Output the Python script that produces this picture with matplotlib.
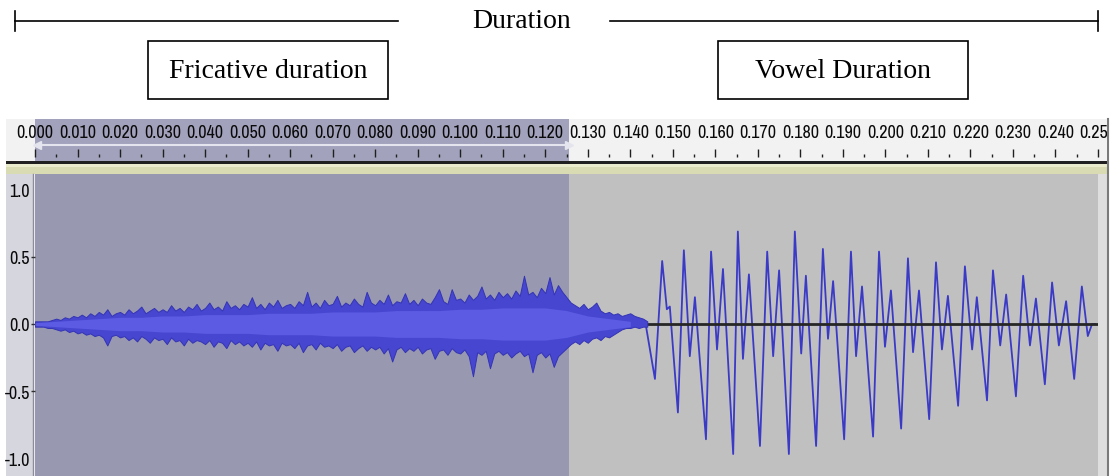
import matplotlib.pyplot as plt
import numpy as np
from matplotlib import font_manager
from matplotlib.font_manager import FontProperties

# fricative noise envelope, one value per ms (0-144 ms)
noise_ms = np.arange(0, 145)
noise_upper = [
    0.02, 0.02, 0.02, 0.02, 0.03, 0.04, 0.03, 0.05, 0.04, 0.06,
    0.05, 0.07, 0.05, 0.08, 0.06, 0.09, 0.07, 0.11, 0.06, 0.08,
    0.09, 0.07, 0.11, 0.08, 0.10, 0.13, 0.08, 0.10, 0.12, 0.09,
    0.11, 0.09, 0.14, 0.10, 0.12, 0.09, 0.13, 0.11, 0.15, 0.10,
    0.12, 0.16, 0.11, 0.13, 0.10, 0.17, 0.12, 0.14, 0.11, 0.15,
    0.13, 0.20, 0.12, 0.15, 0.11, 0.16, 0.13, 0.18, 0.12, 0.14,
    0.15, 0.12, 0.17, 0.14, 0.24, 0.13, 0.16, 0.12, 0.18, 0.14,
    0.15, 0.21, 0.13, 0.16, 0.14, 0.19, 0.15, 0.13, 0.24, 0.16,
    0.14, 0.18, 0.15, 0.22, 0.14, 0.17, 0.16, 0.23, 0.15, 0.18,
    0.14, 0.19, 0.16, 0.15, 0.20, 0.26, 0.17, 0.15, 0.26, 0.18,
    0.19, 0.16, 0.22, 0.18, 0.21, 0.28, 0.19, 0.22, 0.18, 0.24,
    0.20, 0.23, 0.19, 0.25, 0.21, 0.36, 0.22, 0.24, 0.20, 0.27,
    0.23, 0.35, 0.22, 0.29, 0.24, 0.20, 0.16, 0.14, 0.12, 0.15,
    0.11, 0.13, 0.16, 0.10, 0.08, 0.09, 0.07, 0.08, 0.06, 0.07,
    0.08, 0.06, 0.05, 0.04, 0.02,
]
noise_lower = [
    -0.02, -0.02, -0.02, -0.03, -0.03, -0.04, -0.05, -0.04, -0.06, -0.05,
    -0.07, -0.06, -0.08, -0.07, -0.09, -0.08, -0.10, -0.16, -0.09, -0.08,
    -0.10, -0.09, -0.12, -0.10, -0.13, -0.09, -0.11, -0.14, -0.10, -0.12,
    -0.11, -0.15, -0.10, -0.13, -0.12, -0.16, -0.11, -0.14, -0.12, -0.13,
    -0.15, -0.12, -0.17, -0.13, -0.14, -0.18, -0.12, -0.15, -0.13, -0.16,
    -0.14, -0.17, -0.13, -0.19, -0.14, -0.16, -0.15, -0.20, -0.14, -0.16,
    -0.15, -0.18, -0.14, -0.21, -0.16, -0.15, -0.19, -0.14, -0.17, -0.16,
    -0.18, -0.15, -0.20, -0.17, -0.16, -0.21, -0.18, -0.16, -0.20, -0.17,
    -0.19, -0.17, -0.22, -0.18, -0.28, -0.19, -0.17, -0.21, -0.18, -0.20,
    -0.17, -0.22, -0.19, -0.18, -0.26, -0.20, -0.19, -0.23, -0.18, -0.21,
    -0.22, -0.19, -0.24, -0.39, -0.21, -0.23, -0.20, -0.33, -0.22, -0.20,
    -0.23, -0.21, -0.25, -0.22, -0.20, -0.24, -0.22, -0.36, -0.23, -0.21,
    -0.25, -0.22, -0.32, -0.24, -0.21, -0.18, -0.15, -0.13, -0.15, -0.12,
    -0.14, -0.11, -0.10, -0.12, -0.09, -0.10, -0.08, -0.06, -0.04, -0.03,
    -0.03, -0.02, -0.03, -0.02, -0.02,
]

# lighter rms band inside the noise, every 5 ms
rms_ms = np.arange(0, 145, 5)
rms_level = [
    0.01, 0.02, 0.03, 0.04, 0.05, 0.05, 0.06, 0.06, 0.07, 0.07,
    0.07, 0.08, 0.08, 0.08, 0.09, 0.09, 0.09, 0.10, 0.10, 0.10,
    0.11, 0.11, 0.12, 0.12, 0.12, 0.10, 0.06, 0.04, 0.02,
]

# vowel: turning points of each glottal cycle (ms, amplitude)
vowel_ms = [
    143.5, 145.8, 147.5, 148.6, 149.3, 151.2, 152.6, 154.0, 155.2, 157.8,
    159.0, 160.4, 161.8, 164.2, 165.3, 166.5, 167.9, 170.5, 172.2, 173.6,
    175.0, 177.3, 178.7, 180.2, 181.3, 183.7, 185.3, 186.5, 187.7, 190.3,
    191.9, 193.1, 194.5, 197.1, 198.5, 199.9, 201.3, 203.7, 205.3, 206.5,
    207.9, 210.3, 211.9, 213.3, 214.7, 217.1, 218.7, 220.4, 221.5, 223.9,
    225.3, 227.0, 228.4, 230.7, 232.4, 234.0, 235.4, 237.5, 239.2, 240.8,
    242.5, 244.4, 246.2, 247.6, 248.6, 249.3,
]
vowel_amp = [
    0.02, -0.41, 0.47, 0.11, 0.13, -0.66, 0.55, -0.24, 0.20, -0.86,
    0.54, -0.19, 0.41, -0.97, 0.69, -0.26, 0.37, -0.91, 0.54, -0.24,
    0.40, -0.97, 0.69, -0.22, 0.36, -0.91, 0.56, -0.11, 0.32, -0.86,
    0.54, -0.24, 0.28, -0.84, 0.54, -0.17, 0.25, -0.78, 0.49, -0.21,
    0.25, -0.71, 0.46, -0.19, 0.21, -0.61, 0.43, -0.19, 0.20, -0.57,
    0.40, -0.16, 0.22, -0.54, 0.36, -0.16, 0.19, -0.45, 0.31, -0.16,
    0.17, -0.41, 0.28, -0.09, 0.00, 0.00,
]

selection_end = 0.1255
ruler_major = np.round(np.arange(0, 0.2501, 0.01), 3)
ruler_minor = np.round(np.arange(0.005, 0.2501, 0.01), 3)
ruler_labels = [f"{t:.3f}" for t in ruler_major]
amp_ticks = [1.0, 0.5, 0.0, -0.5, -1.0]
amp_labels = ["1.0", "0.5", "0.0", "-0.5", "-1.0"]


def pick_narrow_font(size):
    # prefer a narrow/condensed sans for the track labels
    fonts = font_manager.fontManager.ttflist
    for key in ("Narrow", "Condensed"):
        for f in fonts:
            if key in f.name and f.style == "normal" and f.weight in (400, "normal"):
                return FontProperties(fname=f.fname, size=size)
    for f in fonts:
        if f.stretch == "condensed" and "Sans" in f.name and f.style == "normal" \
                and f.weight in (400, "normal"):
            return FontProperties(fname=f.fname, size=size)
    return FontProperties(family="Liberation Sans", size=size - 3)


W, H = 1117, 477
fig = plt.figure(figsize=(W / 100, H / 100), dpi=100)
fig.patch.set_facecolor("white")
label_font = pick_narrow_font(13)
serif = ["Liberation Serif", "DejaVu Serif"]


def px_axes(x0, y0, x1, y1):
    return fig.add_axes([x0 / W, 1 - y1 / H, (x1 - x0) / W, (y1 - y0) / H])


# background frame in pixel coordinates
frame = px_axes(0, 0, W, H)
frame.set_xlim(0, W)
frame.set_ylim(H, 0)
frame.axis("off")
frame.add_patch(plt.Rectangle((6, 175), 28, 302, color="#d6d6de", lw=0))
frame.plot([33, 33], [175, 477], color="#8c8c98", lw=1)
frame.add_patch(plt.Rectangle((6, 162), 1101, 2.5, color="#202020", lw=0))
frame.add_patch(plt.Rectangle((6, 164.5), 1101, 10.5, color="#d9dbb3", lw=0))
frame.add_patch(plt.Rectangle((6, 164.5), 1101, 3, color="#e9ebcc", lw=0))
frame.add_patch(plt.Rectangle((1098, 175), 9, 302, color="#dedede", lw=0))
frame.plot([1107.5, 1107.5], [120, 477], color="#7a7a7a", lw=1.5)

# annotations above the ruler
frame.plot([15, 398], [22, 22], color="black", lw=1.2)
frame.plot([15, 15], [12, 32], color="black", lw=1.2)
frame.plot([610, 1098], [22, 22], color="black", lw=1.2)
frame.plot([1098, 1098], [12, 32], color="black", lw=1.2)
frame.text(522, 22, "Duration", family=serif, fontsize=20,
           ha="center", va="center")
frame.add_patch(plt.Rectangle((148, 42), 240, 58, fill=False,
                              ec="black", lw=1.2))
frame.text(268, 71, "Fricative duration", family=serif, fontsize=20,
           ha="center", va="center")
frame.add_patch(plt.Rectangle((718, 42), 250, 58, fill=False,
                              ec="black", lw=1.2))
frame.text(843, 71, "Vowel Duration", family=serif, fontsize=20,
           ha="center", va="center")

# time ruler
s = 0.25 / 1063
ruler = px_axes(6, 120, 1107, 162)
ruler.set_xlim((6 - 35) * s, (1107 - 35) * s)
ruler.set_ylim(0, 1)
ruler.set_facecolor("#f2f2f2")
ruler.axvspan(0, selection_end, color="#a2a2bc", lw=0, zorder=0)
ruler.vlines(ruler_major, 0.1, 0.28, color="#202020", lw=1)
ruler.vlines(ruler_minor, 0.1, 0.17, color="#202020", lw=1)
for t, lab in zip(ruler_major, ruler_labels):
    ruler.text(t, 0.68, lab, fontproperties=label_font, color="#0a0a0a",
               ha="center", va="center", clip_on=True)
ruler.hlines(0.38, 0, selection_end, color="#e4e4ee", lw=1.5)
ruler.plot([selection_end], [0.38], marker=">", ms=6, color="#e4e4ee")
ruler.plot([0.0005], [0.38], marker="<", ms=6, color="#e4e4ee")
ruler.set_xticks([])
ruler.set_yticks([])
for sp in ruler.spines.values():
    sp.set_visible(False)

# waveform track
ax = px_axes(35, 175, 1098, 477)
ax.set_xlim(0, 0.25)
ax.set_ylim(-1.134, 1.119)
ax.set_facecolor("#c0c0c0")
ax.axvspan(0, selection_end, color="#9898b0", lw=0, zorder=0.5)
ax.plot(np.array(vowel_ms) / 1000, vowel_amp, color="#3a3ac6", lw=1.3,
        zorder=1.5)
ax.axhline(0, color="#262626", lw=2, zorder=2)
ax.fill_between(noise_ms / 1000, noise_lower, noise_upper,
                facecolor="#4646d0", edgecolor="#3434b4", lw=0.7, zorder=3)
ax.fill_between(rms_ms / 1000, -np.array(rms_level), rms_level,
                color="#5b5be4", lw=0, zorder=4)
ax.set_xticks([])
ax.set_yticks(amp_ticks, amp_labels, fontproperties=label_font,
              color="#0a0a0a")
ax.tick_params(axis="y", direction="out", length=3, width=1, pad=0.5,
               color="#303030")
for i in (0, 4):
    ax.yaxis.get_major_ticks()[i].tick1line.set_visible(False)
for sp in ax.spines.values():
    sp.set_visible(False)

fig.savefig("out.png", dpi=100)
